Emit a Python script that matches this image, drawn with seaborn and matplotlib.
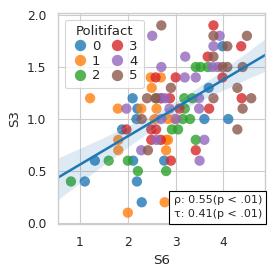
import numpy as np
import pandas as pd
import seaborn as sns
import matplotlib
matplotlib.use("Agg")
import matplotlib.pyplot as plt

# Politifact 0
s6_0 = [1.10, 1.31, 1.88, 2.10, 2.20, 2.18, 2.11, 2.19, 2.29, 2.76, 3.60, 4.10, 3.69, 3.98]
s3_0 = [0.4, 0.6, 0.9, 1.2, 1.1, 1.0, 0.6, 0.4, 0.2, 0.6, 1.0, 1.0, 1.3, 1.7]
# Politifact 1
s6_1 = [1.21, 1.79, 1.80, 1.80, 2.00, 2.77, 2.80, 2.80, 2.48, 2.69, 2.50, 2.28, 2.60, 2.56, 2.84, 2.98, 2.84]
s3_1 = [1.2, 1.1, 0.8, 0.7, 0.1, 0.2, 0.8, 0.7, 1.4, 1.4, 1.3, 1.1, 1.1, 1.0, 1.0, 1.0, 0.8]
# Politifact 2
s6_2 = [0.81, 1.60, 2.00, 2.21, 2.80, 3.42, 2.92, 3.05, 3.15, 3.30, 3.19, 3.18, 3.35, 2.60, 3.42, 3.52, 3.67]
s3_2 = [0.4, 0.6, 0.6, 0.5, 0.5, 0.8, 0.9, 0.9, 1.0, 1.0, 1.1, 1.2, 1.2, 1.2, 1.5, 1.5, 1.5]
# Politifact 3
s6_3 = [1.97, 2.49, 2.59, 2.49, 2.69, 2.90, 3.42, 2.58, 3.00, 3.98, 3.67, 4.37, 3.79, 3.70, 4.38, 2.88, 2.70, 3.08]
s3_3 = [0.9, 0.9, 0.9, 0.8, 0.8, 0.6, 0.7, 1.4, 1.4, 1.4, 1.6, 1.7, 1.9, 1.1, 1.2, 1.2, 1.2, 1.1]
# Politifact 4
s6_4 = [1.97, 2.51, 3.20, 2.70, 3.77, 3.88, 3.79, 3.92, 3.19, 3.42, 3.49, 3.49, 3.60, 3.50, 2.60,
        2.28, 2.69, 2.78, 2.87, 3.01, 2.70]
s3_4 = [1.1, 1.8, 1.6, 1.5, 1.5, 1.5, 1.7, 1.8, 1.4, 1.4, 1.2, 1.1, 0.8, 0.6, 0.8,
        0.7, 1.2, 1.2, 1.1, 1.0, 1.0]
# Politifact 5
s6_5 = [2.70, 3.79, 4.49, 4.08, 3.79, 3.98, 4.08, 4.40, 4.29, 3.79, 4.58, 4.40, 4.29, 2.90, 2.40,
        2.58, 2.29, 2.42]
s3_5 = [1.9, 1.8, 1.8, 1.7, 1.6, 1.5, 1.5, 1.5, 1.3, 1.2, 1.2, 1.1, 0.9, 1.3, 1.2,
        1.2, 1.0, 0.7]

labels = [0, 1, 2, 3, 4, 5]
s6_all = [s6_0, s6_1, s6_2, s6_3, s6_4, s6_5]
s3_all = [s3_0, s3_1, s3_2, s3_3, s3_4, s3_5]

rho_text = "ρ: 0.55(p < .01)"
tau_text = "τ: 0.41(p < .01)"

df = pd.concat(
    [pd.DataFrame({"S6": a, "S3": b, "Politifact": lab}) for a, b, lab in zip(s6_all, s3_all, labels)],
    ignore_index=True,
)

sns.set_theme(style="whitegrid", context="paper")

fig, ax = plt.subplots(figsize=(2.75, 2.75), dpi=100)
fig.subplots_adjust(left=0.211, right=0.964, top=0.953, bottom=0.185)

ax.set_xlim(0.54, 4.87)
ax.set_ylim(-0.01, 2.02)

sns.scatterplot(data=df, x="S6", y="S3", hue="Politifact", palette="tab10",
                s=55, alpha=0.8, linewidth=0, ax=ax)
sns.regplot(data=df, x="S6", y="S3", scatter=False, truncate=False,
            color="tab:blue", ax=ax)

ax.set_xticks([1, 2, 3, 4])
ax.set_yticks([0.0, 0.5, 1.0, 1.5, 2.0])
ax.set_xlim(0.54, 4.87)
ax.set_ylim(-0.01, 2.02)

ax.legend(title="Politifact", ncol=2, loc="upper left", fontsize=9.5, title_fontsize=9.5,
          labelspacing=0.12, handletextpad=0.2, columnspacing=0.6, handlelength=1.4,
          borderpad=0.45, markerscale=1.1)

ax.text(0.985, 0.022, rho_text + "\n" + tau_text, transform=ax.transAxes,
        ha="right", va="bottom", fontsize=8, linespacing=1.5,
        bbox=dict(boxstyle="square,pad=0.4", fc="white", ec="black", lw=0.8))

fig.savefig("out.png", dpi=100)
